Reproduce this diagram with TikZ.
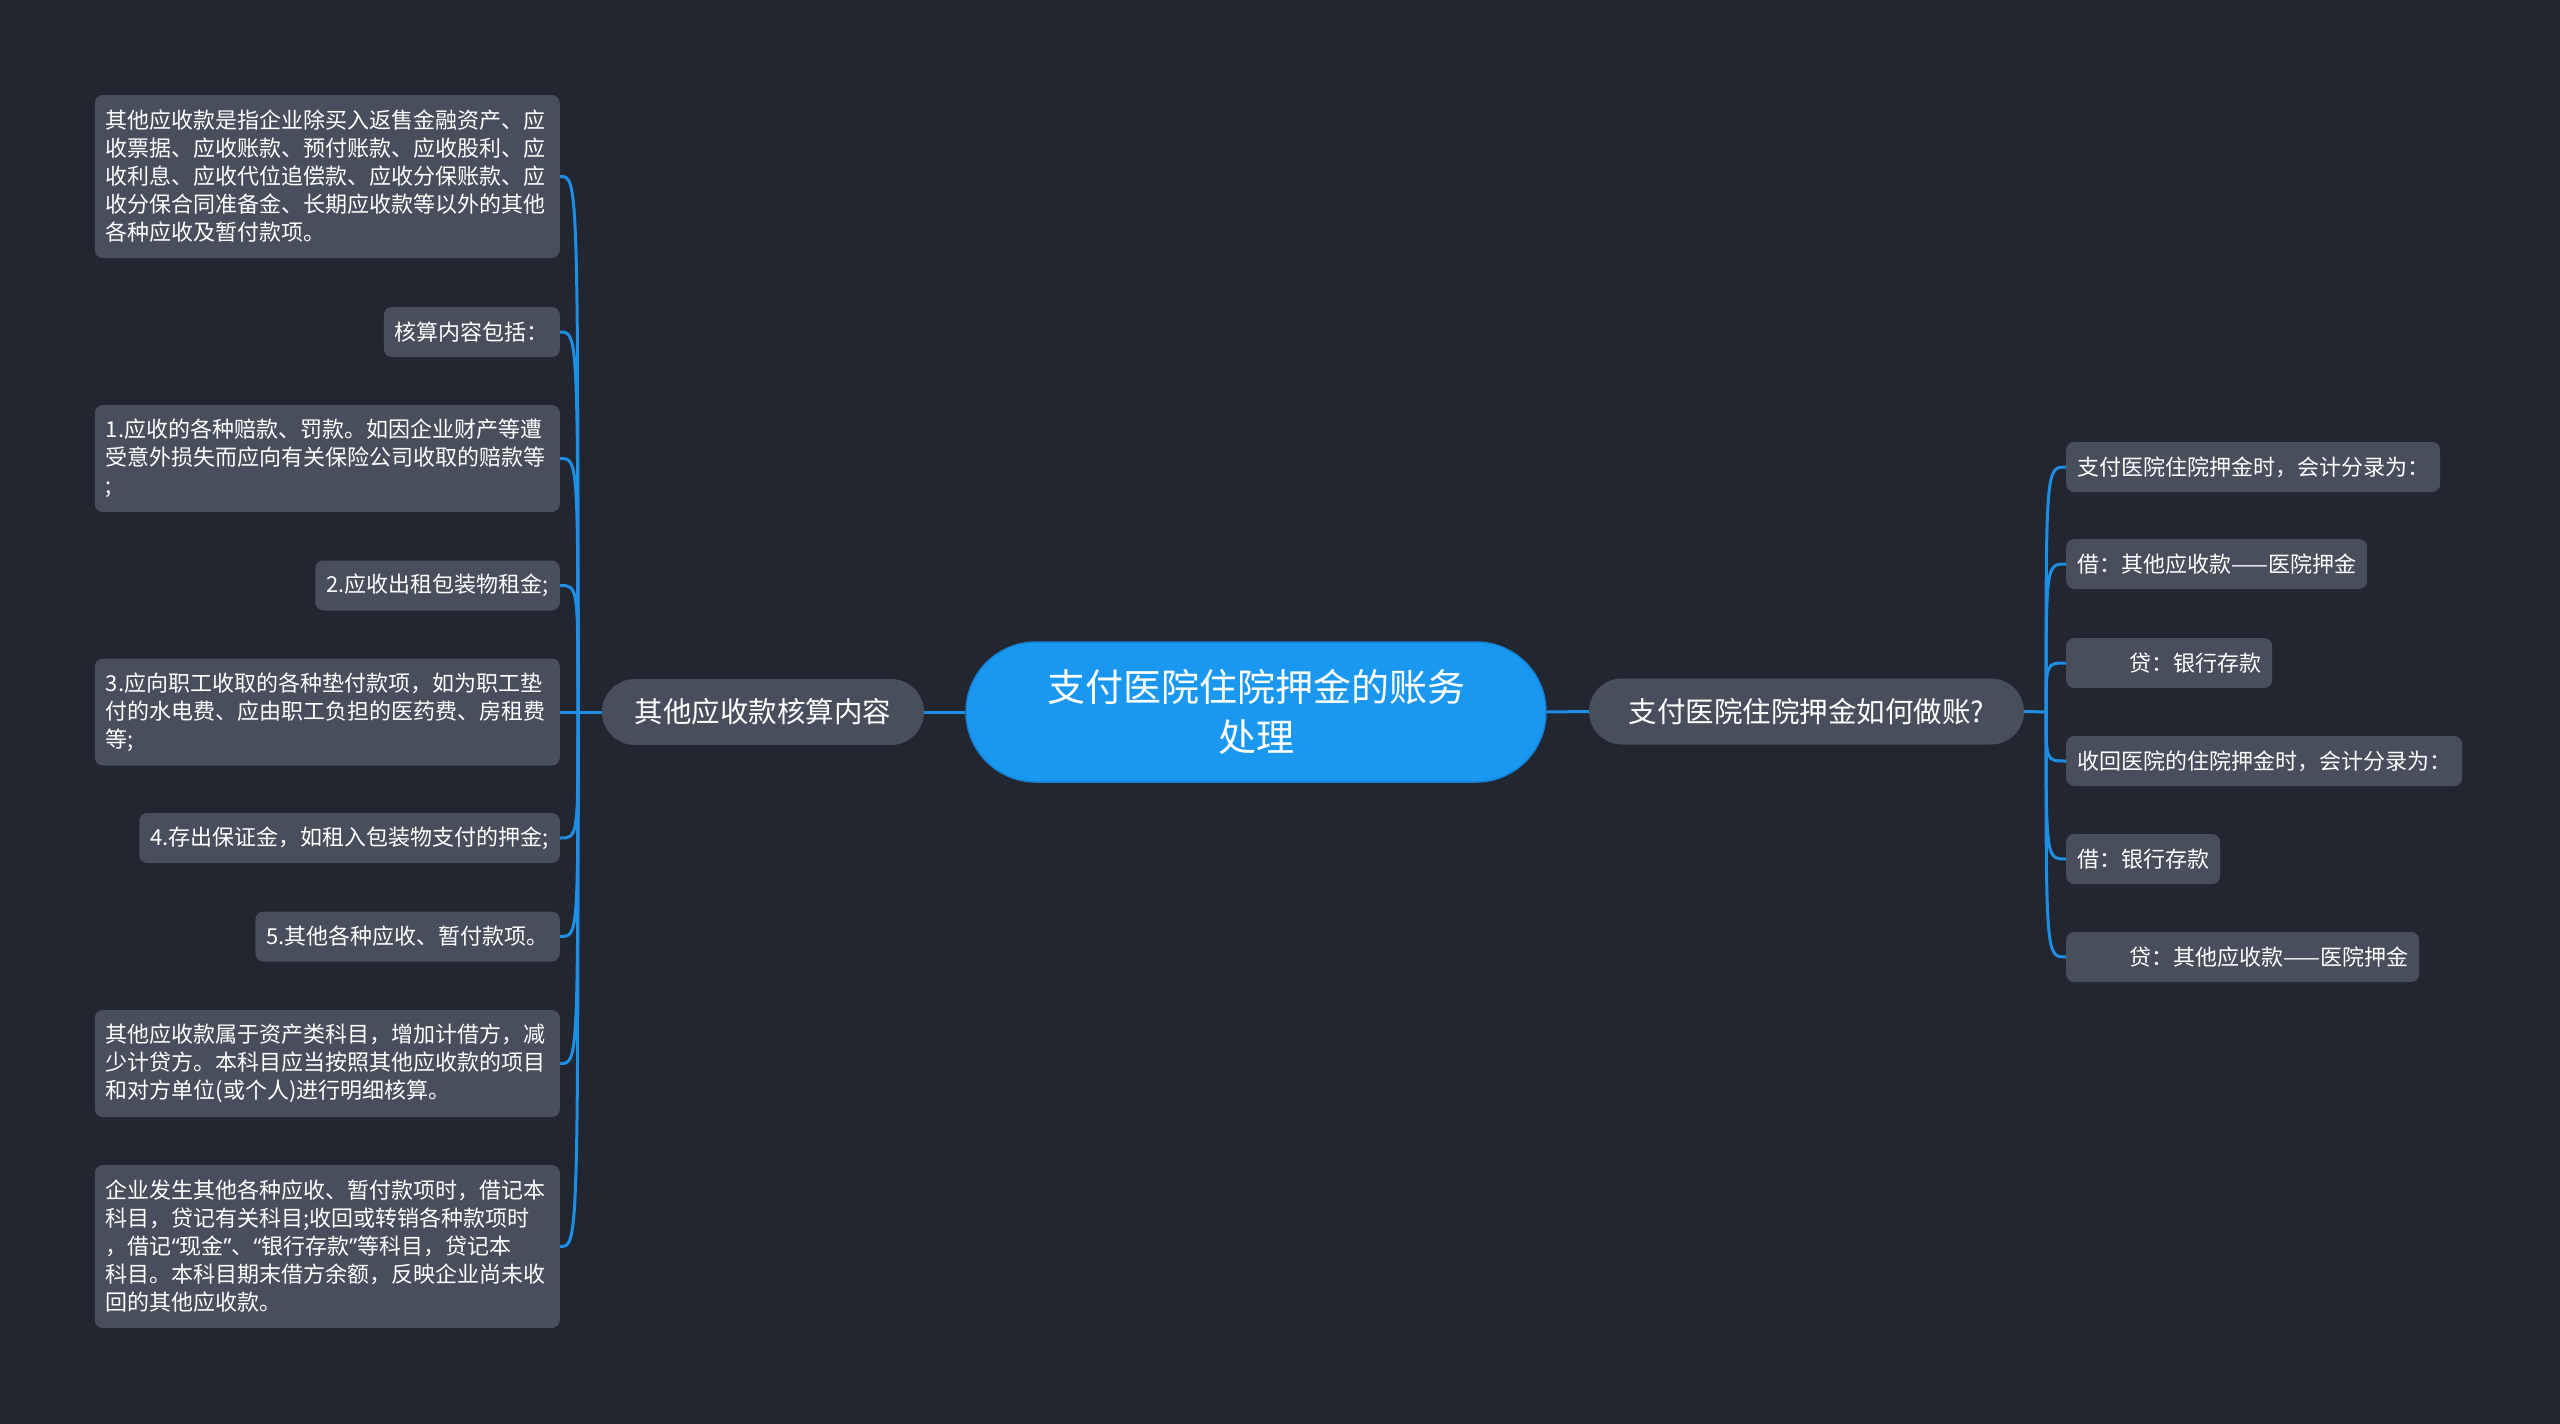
\documentclass[tikz,border=0pt]{standalone}
\usepackage{fontspec}
\setmainfont{Noto Sans CJK SC}
\newfontfamily\latinq{Noto Sans}
\definecolor{bgc}{HTML}{222631}
\definecolor{nodefill}{HTML}{484E5C}
\definecolor{mainblue}{HTML}{1A97EF}
\definecolor{mainborder}{HTML}{1683D4}
\definecolor{linec}{HTML}{1E8FE6}
\begin{document}
\begin{tikzpicture}[x=1pt,y=-1pt,
  leaf/.style={fill=nodefill, rounded corners=8pt, text=white,
    font=\fontsize{22}{28}\selectfont, inner xsep=11pt, inner ysep=0pt, minimum height=50pt},
  mleaf/.style={leaf, text width=443pt, align=left},
  branch/.style={fill=nodefill, text=white, rounded corners=33pt, minimum height=66pt,
    font=\fontsize{28.5}{34}\selectfont, inner sep=0pt},
  rootnode/.style={fill=mainblue, draw=mainborder, line width=1.5pt, text=white,
    rounded corners=70pt, minimum width=580pt, minimum height=140pt,
    font=\fontsize{38}{50}\selectfont, align=center, inner sep=0pt},
  conn/.style={draw=linec, line width=3pt}]
\fill[bgc] (0,0) rectangle (2560,1424);
\useasboundingbox (0,0) rectangle (2560,1424);

% root and branches
\node[rootnode] (c) at (1256,712) {支付医院住院押金的账务\\处理};
\node[branch, minimum width=322pt] (lb) at (763,712) {其他应收款核算内容};
\node[branch, minimum width=435pt] (rb) at (1806.5,711.5) {支付医院住院押金如何做账?};

% left leaves
\node[mleaf, anchor=east, minimum height=163pt] (l1) at (560,176.5) {其他应收款是指企业除买入返售金融资产、应\\收票据、应收账款、预付账款、应收股利、应\\收利息、应收代位追偿款、应收分保账款、应\\收分保合同准备金、长期应收款等以外的其他\\各种应收及暂付款项。};
\node[leaf, anchor=east] (l2) at (560,332) {核算内容包括：};
\node[mleaf, anchor=east, minimum height=107pt] (l3) at (560,458.5) {1.应收的各种赔款、罚款。如因企业财产等遭\\受意外损失而应向有关保险公司收取的赔款等\\;};
\node[leaf, anchor=east] (l4) at (560,585.5) {2.应收出租包装物租金;};
\node[mleaf, anchor=east, minimum height=107pt] (l5) at (560,712) {3.应向职工收取的各种垫付款项，如为职工垫\\付的水电费、应由职工负担的医药费、房租费\\等;};
\node[leaf, anchor=east] (l6) at (560,838) {4.存出保证金，如租入包装物支付的押金;};
\node[leaf, anchor=east] (l7) at (560,936.5) {5.其他各种应收、暂付款项。};
\node[mleaf, anchor=east, minimum height=107pt] (l8) at (560,1063.5) {其他应收款属于资产类科目，增加计借方，减\\少计贷方。本科目应当按照其他应收款的项目\\和对方单位(或个人)进行明细核算。};
\node[mleaf, anchor=east, minimum height=163pt] (l9) at (560,1246.5) {企业发生其他各种应收、暂付款项时，借记本\\科目，贷记有关科目;收回或转销各种款项时\\，借记{\latinq “}现金{\latinq ”}、{\latinq “}银行存款{\latinq ”}等科目，贷记本\\科目。本科目期末借方余额，反映企业尚未收\\回的其他应收款。};

% right leaves
\node[leaf, anchor=west] (r1) at (2066,467) {支付医院住院押金时，会计分录为：};
\node[leaf, anchor=west] (r2) at (2066,564) {借：其他应收款——医院押金};
\node[leaf, anchor=west] (r3) at (2066,663) {\hspace*{52pt}贷：银行存款};
\node[leaf, anchor=west] (r4) at (2066,761) {收回医院的住院押金时，会计分录为：};
\node[leaf, anchor=west] (r5) at (2066,859) {借：银行存款};
\node[leaf, anchor=west] (r6) at (2066,957) {\hspace*{52pt}贷：其他应收款——医院押金};

% connectors
\coordinate (lt) at (578,712);
\coordinate (rt) at (2046,712);
\draw[conn] (c.west) -- (lb.east);
\draw[conn] (c.east) -- (rb.west);
\draw[conn] (lb.west) -- (lt);
\draw[conn] (rb.east) -- (rt);
\foreach \n in {l1,l2,l3,l4,l5,l6,l7,l8,l9}{
  \draw[conn] (lt) .. controls (lt |- \n.east) and (lt |- \n.east) .. (\n.east);
}
\foreach \n in {r1,r2,r3,r4,r5,r6}{
  \draw[conn] (rt) .. controls (rt |- \n.west) and (rt |- \n.west) .. (\n.west);
}
\end{tikzpicture}
\end{document}
